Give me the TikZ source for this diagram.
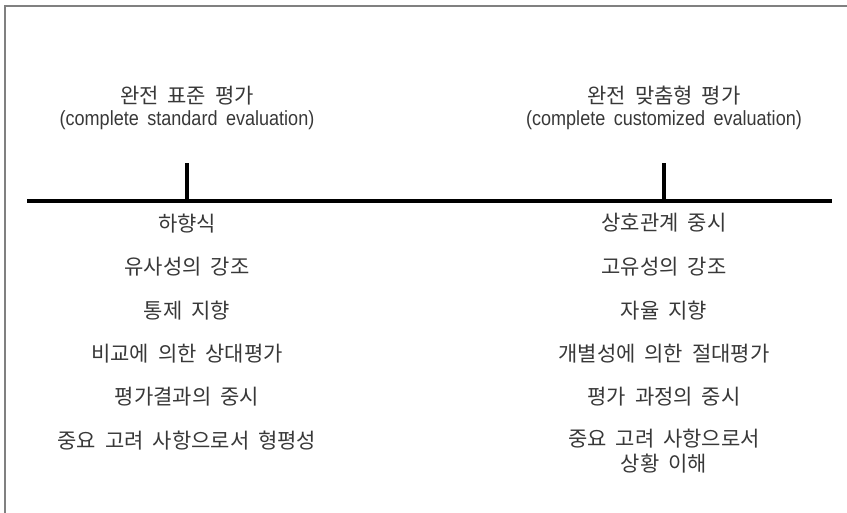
\documentclass[tikz,border=0pt]{standalone}
\usepackage{fontspec}
\setmainfont{Liberation Sans}
\newfontfamily\kr[WordSpace=1.9]{Noto Sans CJK KR}
\newfontfamily\en[FakeStretch=0.88,WordSpace=1.7]{Liberation Sans}
\begin{document}
\begin{tikzpicture}[x=1pt,y=-1pt,
  kt/.style={font=\kr\fontsize{21}{24}\selectfont, text=black!78, inner sep=0pt, anchor=center},
  et/.style={font=\en\fontsize{20.5}{22}\selectfont, text=black!78, inner sep=0pt, anchor=center},
  frame/.style={draw=black!50, line width=1.3pt},
  axis/.style={line width=4pt, line cap=butt},
  tick/.style={line width=3.5pt}]
\useasboundingbox (0,0) rectangle (847,513);
\draw[frame] (5,513) -- (5,6) -- (847,6);
% axis
\coordinate (aL) at (27,201);
\coordinate (aR) at (832,201);
\coordinate (tL) at (187,201);
\coordinate (tLtop) at (187,163);
\coordinate (tR) at (664,201);
\coordinate (tRtop) at (664,163);
\draw[axis] (aL) -- (aR);
\draw[tick] (tL) -- (tLtop);
\draw[tick] (tR) -- (tRtop);
% headers
\node[kt] (hl1) at (187,96) {완전 표준 평가};
\node[et] (hl2) at (187,120) {(complete standard evaluation)};
\node[kt] (hr1) at (664,96) {완전 맞춤형 평가};
\node[et] (hr2) at (664,120) {(complete customized evaluation)};
% left list
\node[kt] (l1) at (187,224) {하향식};
\node[kt] (l2) at (187,267) {유사성의 강조};
\node[kt] (l3) at (187,311) {통제 지향};
\node[kt] (l4) at (187,354) {비교에 의한 상대평가};
\node[kt] (l5) at (187,397) {평가결과의 중시};
\node[kt] (l6) at (187,441) {중요 고려 사항으로서 형평성};
% right list
\node[kt] (r1) at (664,223) {상호관계 중시};
\node[kt] (r2) at (664,267) {고유성의 강조};
\node[kt] (r3) at (664,311) {자율 지향};
\node[kt] (r4) at (664,354) {개별성에 의한 절대평가};
\node[kt] (r5) at (664,397) {평가 과정의 중시};
\node[kt] (r6) at (664,439) {중요 고려 사항으로서};
\node[kt] (r7) at (664,464) {상황 이해};
\end{tikzpicture}
\end{document}
